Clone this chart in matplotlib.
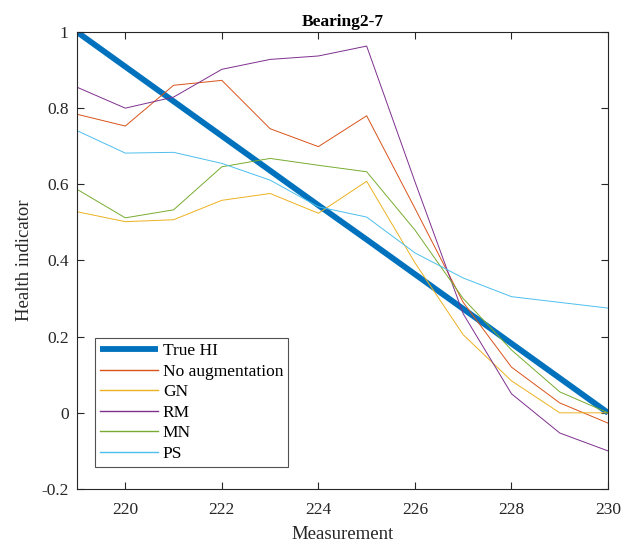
import matplotlib
matplotlib.use('Agg')
import matplotlib.pyplot as plt
import numpy as np

plt.rcParams['font.family'] = ['Liberation Serif', 'DejaVu Serif']

# measurement index
measurement = np.arange(219, 231)

# health indicator curves
true_hi = [1.0, 0.909, 0.818, 0.727, 0.636, 0.545, 0.455, 0.364, 0.273, 0.182, 0.091, 0.0]
no_aug = [0.784, 0.753, 0.860, 0.873, 0.746, 0.699, 0.780, 0.537, 0.290, 0.120, 0.026, -0.027]
gn = [0.528, 0.502, 0.507, 0.558, 0.576, 0.524, 0.608, 0.394, 0.205, 0.084, 0.0, 0.0]
rm = [0.855, 0.800, 0.829, 0.902, 0.928, 0.937, 0.963, 0.607, 0.260, 0.050, -0.053, -0.100]
mn = [0.587, 0.512, 0.533, 0.646, 0.668, 0.650, 0.633, 0.480, 0.300, 0.165, 0.055, 0.0]
ps = [0.741, 0.682, 0.684, 0.655, 0.611, 0.541, 0.514, 0.420, 0.354, 0.305, 0.290, 0.275]

labels = ['True HI', 'No augmentation', 'GN', 'RM', 'MN', 'PS']

# matlab default colour order
c_blue = (0.0, 0.447, 0.741)
c_orange = (0.85, 0.325, 0.098)
c_yellow = (0.929, 0.694, 0.125)
c_purple = (0.494, 0.184, 0.556)
c_green = (0.466, 0.674, 0.188)
c_cyan = (0.301, 0.745, 0.933)

fig = plt.figure(figsize=(6.23, 5.44), dpi=100)
ax = fig.add_axes([0.1236, 0.1011, 0.8524, 0.8401])

ax.plot(measurement, true_hi, color=c_blue, lw=4.2, label=labels[0], solid_capstyle='butt')
ax.plot(measurement, no_aug, color=c_orange, lw=0.7, label=labels[1])
ax.plot(measurement, gn, color=c_yellow, lw=0.7, label=labels[2])
ax.plot(measurement, rm, color=c_purple, lw=0.7, label=labels[3])
ax.plot(measurement, mn, color=c_green, lw=0.7, label=labels[4])
ax.plot(measurement, ps, color=c_cyan, lw=0.7, label=labels[5])

ax.set_xlim(219, 230)
ax.set_ylim(-0.2, 1.0)
ax.set_xticks(np.arange(220, 231, 2))
ax.set_yticks([-0.2, 0, 0.2, 0.4, 0.6, 0.8, 1.0])
ax.set_yticklabels(['-0.2', '0', '0.2', '0.4', '0.6', '0.8', '1'])
ax.tick_params(direction='in', top=True, right=True, length=5, width=0.8,
               color='#262626', labelsize=12.5, labelcolor='#262626')
ax.tick_params(axis='x', pad=9)
ax.tick_params(axis='y', pad=6)
for sp in ax.spines.values():
    sp.set_color('#262626')
    sp.set_linewidth(0.8)

ax.set_xlabel('Measurement', fontsize=13.5, color='#262626', labelpad=6)
ax.set_ylabel('Health indicator', fontsize=13.5, color='#262626', labelpad=6)
ax.set_title('Bearing2-7', fontsize=12.5, fontweight='bold', pad=4)

leg = ax.legend(loc='lower left', bbox_to_anchor=(0.034, 0.048), fontsize=12.5,
                frameon=True, fancybox=False, edgecolor='#262626',
                handlelength=3.35, handletextpad=0.25, labelspacing=0.25,
                borderpad=0.3, borderaxespad=0.0)
leg.get_frame().set_linewidth(0.8)
for h in leg.get_lines()[1:]:
    h.set_linewidth(1.0)

plt.savefig('out.png', dpi=100)
